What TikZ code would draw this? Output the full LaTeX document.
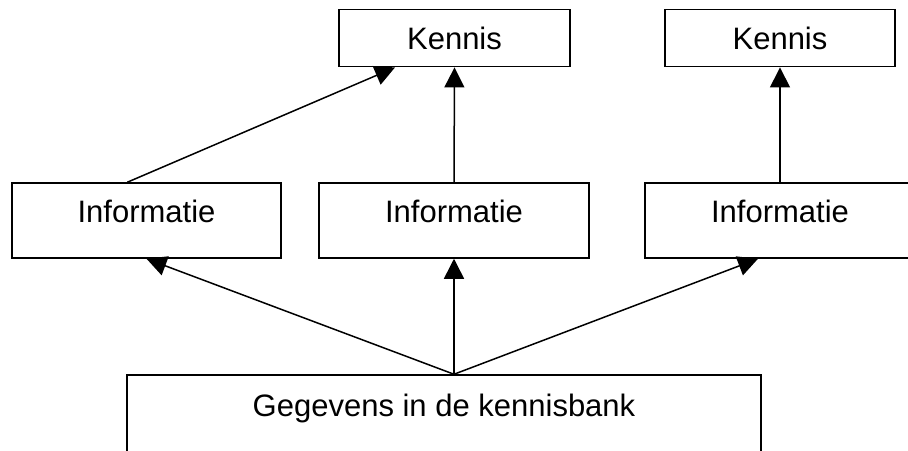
\documentclass[tikz,border=0pt]{standalone}
\usepackage{fontspec}
\setmainfont{Liberation Sans}
\usetikzlibrary{arrows.meta,calc}

\tikzset{
  box/.style={draw=black, line width=1.5pt, fill=white, inner xsep=0pt, inner ysep=0pt,
    font=\fontsize{31}{36}\selectfont, text height=22pt, anchor=center},
  kennisbox/.style={box, minimum width=231pt, minimum height=57.4pt, text depth=0pt},
  infobox/.style={box, minimum width=270pt, minimum height=75pt, text depth=17.6pt},
  databox/.style={box, minimum width=634pt, minimum height=95pt, text depth=35pt},
  link/.style={draw=black, line width=1.5pt, -{Triangle[length=20pt,width=20pt]}},
}

\begin{document}
\begin{tikzpicture}[x=1pt, y=-1pt]
  \useasboundingbox (0,0) rectangle (908,450);
  \clip (0,0) rectangle (908,450);
  \fill[white] (0,0) rectangle (908,450);

  % top row
  \node[kennisbox] (k1) at (454.5,38) {Kennis};
  \node[kennisbox, minimum width=230pt] (k2) at (780,38) {Kennis};

  % middle row
  \node[infobox, minimum width=269pt] (i1) at (146.5,220.5) {Informatie};
  \node[infobox] (i2) at (454,220.5) {Informatie};
  \node[infobox] (i3) at (780,220.5) {Informatie};

  % bottom box, runs past the lower edge
  \node[databox] (g) at (444,422.5) {Gegevens in de kennisbank};

  % attachment points that sit off the box centres
  \coordinate (gtop) at ($(g.north)+(10,0)$);
  \coordinate (i1top) at ($(i1.north)+(-19.2,0)$);
  \coordinate (k1in) at ($(k1.south)+(-59.5,0)$);
  \coordinate (i3in) at ($(i3.south)+(-22,0)$);

  % information -> knowledge
  \draw[link] (i1top) -- (k1in);
  \draw[link] (i2.north) -- (k1.south);
  \draw[link] (i3.north) -- (k2.south);

  % data -> information
  \draw[link] (gtop) -- (i1.south);
  \draw[link] (gtop) -- (i2.south);
  \draw[link] (gtop) -- (i3in);
\end{tikzpicture}
\end{document}
